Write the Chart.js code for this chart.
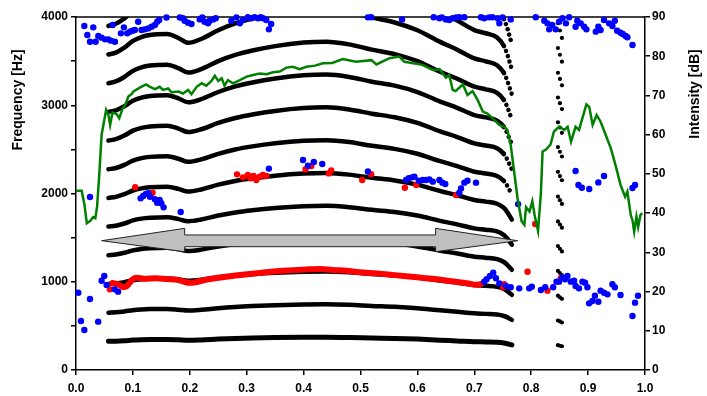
<!DOCTYPE html>
<html><head><meta charset="utf-8">
<script src="https://cdn.jsdelivr.net/npm/chart.js@4"></script>
<style>html,body{margin:0;padding:0;background:#fff;}</style>
</head><body>
<canvas id="c" width="707" height="396"></canvas>
<script>
// ---------- DATA ----------
// time grid (s, normalised) for the harmonic tracks
const harmT = [0.057,0.07,0.085,0.10,0.115,0.13,0.16,0.18,0.197,0.22,0.25,0.28,0.31,0.35,0.40,0.44,0.48,0.52,0.56,0.60,0.64,0.67,0.70,0.72,0.74,0.752,0.758,0.762,0.766];
const h1  = [325,327,332,339,343,345,346,342,337,341,350,357,362,367,371,372,369,363,358,350,338,330,321,318,314,306,298,291,284];
const h2  = [650,654,664,678,686,690,692,684,674,682,700,714,724,734,742,744,738,726,716,700,676,660,642,636,628,612,596,582,568];
const h3  = [975,981,996,1017,1029,1035,1038,1026,1011,1023,1050,1071,1086,1101,1113,1116,1107,1089,1074,1050,1014,990,963,954,942,918,894,873,852];
const h4  = [1300,1308,1328,1356,1372,1380,1384,1368,1348,1364,1400,1428,1448,1468,1484,1488,1476,1452,1432,1400,1352,1320,1284,1272,1256,1224,1192,1164,1136];
const h5  = [1625,1635,1660,1695,1715,1725,1730,1710,1685,1705,1750,1785,1810,1835,1855,1860,1845,1815,1790,1750,1690,1650,1605,1590,1570,1530,1490,1455,1420];
const h6  = [1950,1962,1992,2034,2058,2070,2076,2052,2022,2046,2100,2142,2172,2202,2226,2232,2214,2178,2148,2100,2028,1980,1926,1908,1884,1836,1788,1746,1704];
const h7  = [2275,2289,2324,2373,2401,2415,2422,2394,2359,2387,2450,2499,2534,2569,2597,2604,2583,2541,2506,2450,2366,2310,2247,2226,2198,2142,2086,2037,1988];
const h8  = [2600,2616,2656,2712,2744,2760,2768,2736,2696,2728,2800,2856,2896,2936,2968,2976,2952,2904,2864,2800,2704,2640,2568,2544,2512,2448,2384,2328,2272];
const h9  = [2925,2943,2988,3051,3087,3105,3114,3078,3033,3069,3150,3213,3258,3303,3339,3348,3321,3267,3222,3150,3042,2970,2889,2862,2826,2754,2682,2619,2556];
const h10 = [3250,3270,3320,3390,3430,3450,3460,3420,3370,3410,3500,3570,3620,3670,3710,3720,3690,3630,3580,3500,3380,3300,3210,3180,3140,3060,2980,2910,2840];
const h11 = [3575,3597,3652,3729,3773,3795,3806,3762,3707,3751,3850,3927,3982,4037,4081,4092,4059,3993,3938,3850,3718,3630,3531,3498,3454,3366,3278,3201,3124];
const h12 = [3900,3924,3984,4068,4116,4140,4152,4104,4044,4092,4200,4284,4344,4404,4452,4464,4428,4356,4296,4200,4056,3960,3852,3816,3768,3672,3576,3492,3408];
const h13 = [4225,4251,4316,4407,4459,4485,4498,4446,4381,4433,4550,4641,4706,4771,4823,4836,4797,4719,4654,4550,4394,4290,4173,4134,4082,3978,3874,3783,3692];

// short pitch glide near t = 0.85 (three frames)
const glideT = [0.847, 0.8505, 0.854];
const glideHzA = [281,561,842,1123,1404,1684,1965,2246,2526,2807,3088,3368,3649,3930];
const glideHzB = [275,550,824,1099,1374,1649,1924,2198,2473,2748,3023,3298,3572,3847];
const glideHzC = [269,538,806,1075,1344,1613,1882,2150,2419,2688,2957,3226,3494,3763];

// red track (F1)
const redT  = [0.065,0.072,0.077,0.083,0.089,0.094,0.098,0.106,0.12,0.14,0.16,0.18,0.19,0.20,0.21,0.23,0.25,0.28,0.305,0.33,0.364,0.405,0.43,0.451,0.475,0.498,0.53,0.56,0.60,0.63,0.66,0.69,0.703,0.712];
const redHz = [985,975,960,940,950,985,1020,1045,1035,1040,1030,1020,1000,988,995,1025,1046,1070,1088,1105,1125,1140,1145,1133,1125,1107,1095,1075,1050,1030,1005,980,965,975];

// isolated red points
const redDotT  = [0.0596,0.064,0.104,0.1345,0.283,0.2935,0.302,0.3065,0.312,0.317,
                  0.3228,0.3286,0.3345,0.4035,0.4135,0.4444,0.4485,0.503,0.5187,0.578,
                  0.598,0.668,0.751,0.7526,0.7936,0.807,0.8286,0.852];
const redDotHz = [914,982,2070,2009,2217,2183,2210,2172,2198,2153,
                  2190,2210,2198,2274,2312,2228,2262,2153,2219,2066,
                  2096,1983,937,971,1114,1654,899,1039];

// blue points (upper band)
const blueTopT = [0.0146,0.0199,0.0246,0.0304,0.0345,0.0392,0.045,0.0509,0.0567,0.0614,
                  0.0643,0.0684,0.0789,0.0842,0.09,0.0947,0.0994,0.1035,0.1093,0.1152,
                  0.121,0.1269,0.1328,0.1386,0.1427,0.1462,0.159,0.1825,0.188,0.191,
                  0.197,0.203,0.2175,0.222,0.226,0.232,0.235,0.241,0.2456,0.273,
                  0.282,0.288,0.2935,0.302,0.308,0.314,0.32,0.3246,0.3286,0.3345,
                  0.339,0.343,0.513,0.5187,0.573,0.6287,0.6386,0.643,0.650,0.656,
                  0.662,0.668,0.6737,0.6825,0.7117,0.7175,0.726,0.732,0.741,0.744,
                  0.7497,0.764,0.808,0.823,0.8286,0.8316,0.837,0.843,0.849,0.855,
                  0.861,0.8667,0.878,0.881,0.887,0.893,0.897,0.9135,0.918,0.922,
                  0.928,0.937,0.9427,0.947,0.951,0.957,0.961,0.966,0.969,0.978];
const blueTopHz = [3898,3796,3720,3883,3720,3785,3766,3747,3747,3732,
                   3909,3720,3815,3883,3815,3834,3845,3853,3947,3853,
                   3860,3871,3890,3909,3947,3966,3995,3995,3985,3958,
                   3936,3921,3973,3996,3947,3928,3958,3973,3985,3958,
                   3996,3928,3966,3998,3985,3998,3985,3998,3985,3966,
                   3860,3921,3996,3998,3973,3998,3985,3996,3973,3966,
                   3985,3996,3998,3998,3998,3985,3996,3998,3985,3928,
                   3996,3973,3998,3958,3928,3860,3909,3860,3947,3985,
                   3928,3998,3890,3958,3928,3890,3860,3834,3890,3853,
                   3966,3928,3898,3958,3845,3822,3807,3785,3770,3683];
// blue points (middle band)
const blueMidT = [0.0246,0.1135,0.118,0.1228,0.127,0.13,0.1386,0.1427,0.147,0.150,
                  0.154,0.184,0.339,0.399,0.4076,0.418,0.4328,0.513,0.580,0.5848,
                  0.5906,0.5947,0.6023,0.6093,0.615,0.621,0.627,0.6386,0.644,0.649,
                  0.6737,0.6766,0.6825,0.688,0.703,0.777,0.878,0.883,0.889,0.902,
                  0.918,0.928,0.978,0.9825];
const blueMidHz = [1960,1945,1972,1994,2002,1964,1934,1896,1926,1889,
                   1843,1790,2282,2380,2315,2357,2334,2250,2153,2172,
                   2183,2190,2145,2153,2153,2160,2134,2153,2123,2108,
                   2009,2058,2123,2145,2123,1880,2255,2096,2066,2051,
                   2126,2198,2062,2096];
// blue points (lower band)
const blueLowT = [0.004,0.0088,0.0146,0.0246,0.039,0.045,0.0497,0.0538,0.068,0.074,
                  0.7175,0.7216,0.7275,0.7333,0.738,0.744,0.7556,0.764,0.779,0.7965,
                  0.801,0.817,0.8246,0.8386,0.8444,0.849,0.855,0.8596,0.8637,0.8696,
                  0.8754,0.878,0.884,0.89,0.8947,0.8988,0.9018,0.9076,0.912,0.918,
                  0.922,0.928,0.934,0.9427,0.947,0.957,0.978,0.9825,0.9877];
const blueLowHz = [876,555,453,805,548,1012,1065,963,914,888,
                   1001,1028,1065,1103,1039,982,952,937,925,925,
                   944,907,937,937,1001,1001,1050,1028,1065,1001,
                   1012,952,925,1001,990,937,755,782,842,774,
                   899,876,857,971,937,850,612,763,842];

// intensity (dB, right axis)
const intT = [0.000,0.010,0.015,0.019,0.025,0.030,0.034,0.037,0.041,0.045,
              0.050,0.053,0.057,0.060,0.064,0.071,0.076,0.082,0.086,0.092,
              0.098,0.101,0.112,0.123,0.130,0.139,0.147,0.153,0.162,0.168,
              0.180,0.188,0.197,0.203,0.212,0.221,0.229,0.238,0.244,0.250,
              0.256,0.261,0.267,0.276,0.288,0.300,0.311,0.323,0.335,0.346,
              0.358,0.370,0.381,0.393,0.405,0.420,0.434,0.450,0.469,0.492,
              0.519,0.528,0.551,0.568,0.577,0.609,0.627,0.639,0.650,0.656,
              0.662,0.667,0.680,0.688,0.697,0.706,0.715,0.723,0.732,0.744,
              0.753,0.758,0.764,0.770,0.776,0.783,0.788,0.791,0.797,0.802,
              0.806,0.812,0.817,0.820,0.826,0.834,0.840,0.849,0.855,0.858,
              0.864,0.870,0.878,0.884,0.890,0.897,0.902,0.908,0.915,0.922,
              0.931,0.940,0.949,0.957,0.965,0.969,0.975,0.978,0.981,0.985,
              0.988,0.992,0.995];
const intDb = [45.7,45.7,42,37.4,38,39,38.7,41.6,50,60,
               64,66.3,65,62.5,65.6,65.3,64.2,66.7,67.3,69.7,
               70.4,71,72,72.8,72.2,71.6,72.2,71.4,71.8,70.8,
               71,70.5,71.4,70.3,72.2,73.1,72.5,73.7,75,73.7,
               74.4,72.5,73.9,73.1,73.9,74.8,75.2,75.6,75.4,75.9,
               76.1,77.1,77.3,76.7,77.3,77.6,78.2,78.3,79.3,78.6,
               79,77.9,79.5,79.9,78.6,77.8,76.5,76.7,74.5,75.2,
               71.4,71.1,72.8,70.1,71.1,68.8,65.9,65.4,64.2,62.5,
               62,61.2,57.4,50.6,43.8,38,37,41.5,40.4,43,
               39.5,35.5,45,55.7,56.2,57.5,60.8,62,61.5,61.2,
               62,58.2,62,61.2,64.2,67.7,67.1,62.5,65,63.3,
               59.9,56.5,51.8,47.2,44.2,45.5,39.5,38.2,35.3,39.1,
               36.5,39.5,40];

// double-headed annotation arrow (time, Hz)
const arrowT  = [0.045,0.191,0.191,0.632,0.632,0.776,0.632,0.632,0.191,0.191];
const arrowHz = [1465,1605,1530,1530,1605,1465,1340,1397,1397,1340];

// axis labels
const yTitle = 'Frequency [Hz]';
const y2Title = 'Intensity [dB]';

// ---------- BUILD ----------
const FONT = '"Liberation Sans", Arial, Helvetica, sans-serif';
const pairs = (xs, ys) => xs.map((x, i) => ({x: x, y: ys[i]}));

const datasets = [];
[h1,h2,h3,h4,h5,h6,h7,h8,h9,h10,h11,h12,h13].forEach((h, k) => {
  const n = k + 1;
  const ds = {
    label: 'H' + n, data: pairs(harmT, h), showLine: true, pointRadius: 0,
    borderColor: '#000', borderWidth: n === 1 ? 5 : 4.5,
    cubicInterpolationMode: 'monotone', borderCapStyle: 'round', borderJoinStyle: 'round',
    clip: 0, order: 10
  };
  if (n >= 7) ds.segment = { borderDash: c => c.p0DataIndex >= 25 ? [0.01, 5.5] : undefined };
  datasets.push(ds);
});
[glideHzA, glideHzB, glideHzC].forEach((g, j) => {
  datasets.push({ label: 'glide' + j, data: g.map(f => ({x: glideT[j], y: f})),
    pointRadius: 2.1, pointBackgroundColor: '#000', pointBorderWidth: 0, clip: 0, order: 10 });
});
datasets.push({ label: 'F1', data: pairs(redT, redHz), showLine: true, pointRadius: 0,
  borderColor: '#ff0000', borderWidth: 6, cubicInterpolationMode: 'monotone',
  borderCapStyle: 'round', order: 4 });
datasets.push({ label: 'redDots', data: pairs(redDotT, redDotHz), pointRadius: 3.2,
  pointBackgroundColor: '#ff0000', pointBorderWidth: 0, clip: false, order: 3 });
[[blueTopT, blueTopHz], [blueMidT, blueMidHz], [blueLowT, blueLowHz]].forEach((b, j) => {
  datasets.push({ label: 'blue' + j, data: pairs(b[0], b[1]), pointRadius: 3.2,
    pointBackgroundColor: '#0000ff', pointBorderWidth: 0, clip: false, order: 2 });
});
datasets.push({ label: 'Intensity', yAxisID: 'y2', data: pairs(intT, intDb), showLine: true,
  pointRadius: 0, borderColor: '#008000', borderWidth: 2.5, order: 1 });

const arrowPlugin = {
  id: 'arrowAnno',
  beforeDatasetDraw(chart, args) {
    if (chart.data.datasets[args.index].label !== 'F1') return;
    const xs = chart.scales.x, ys = chart.scales.y, c = chart.ctx;
    c.save();
    c.beginPath();
    arrowT.forEach((t, i) => {
      const px = xs.getPixelForValue(t), py = ys.getPixelForValue(arrowHz[i]);
      if (i === 0) c.moveTo(px, py); else c.lineTo(px, py);
    });
    c.closePath();
    c.fillStyle = '#c0c0c0'; c.fill();
    c.lineWidth = 1; c.strokeStyle = '#222'; c.stroke();
    c.restore();
  }
};
const framePlugin = {
  id: 'frame',
  beforeDatasetsDraw(chart) {
    const a = chart.chartArea, c = chart.ctx;
    c.save(); c.strokeStyle = '#000'; c.lineWidth = 1.5;
    c.beginPath(); c.moveTo(a.left, a.top); c.lineTo(a.right, a.top); c.stroke();
    c.restore();
  },
  afterDraw(chart) {
    const a = chart.chartArea, c = chart.ctx;
    c.save(); c.fillStyle = '#000'; c.font = 'bold 14px ' + FONT;
    c.textAlign = 'center'; c.textBaseline = 'middle';
    c.translate(a.left - 58, a.top + 83); c.rotate(-Math.PI / 2); c.fillText(yTitle, 0, 0);
    c.restore();
    c.save(); c.fillStyle = '#000'; c.font = 'bold 14px ' + FONT;
    c.textAlign = 'center'; c.textBaseline = 'middle';
    c.translate(a.right + 50.5, a.top + 77); c.rotate(-Math.PI / 2); c.fillText(y2Title, 0, 0);
    c.restore();
  }
};

const tickFont = { family: FONT, size: 12, weight: 'bold' };
const gridOpts = { drawOnChartArea: false, drawTicks: true, tickLength: 5, color: '#000', lineWidth: 1.5 };
const borderOpts = { display: true, color: '#000', width: 1.5 };

new Chart(document.getElementById('c'), {
  type: 'scatter',
  data: { datasets },
  plugins: [arrowPlugin, framePlugin],
  options: {
    responsive: false, animation: false, devicePixelRatio: 1,
    layout: { padding: { top: 17, left: 0, right: 0, bottom: 0 } },
    plugins: { legend: { display: false }, tooltip: { enabled: false } },
    scales: {
      x: { type: 'linear', position: 'bottom', min: 0, max: 1,
        ticks: { stepSize: 0.1, autoSkip: false, maxRotation: 0, padding: 6, color: '#000', font: tickFont,
          callback: v => Number(v).toFixed(1) },
        grid: gridOpts, border: borderOpts,
        afterFit: s => { s.height = 26; } },
      y: { type: 'linear', position: 'left', min: 0, max: 4000,
        ticks: { stepSize: 500, autoSkip: false, padding: 3, color: '#000', font: tickFont,
          callback: v => (v % 1000 === 0 ? String(v) : '') },
        grid: gridOpts, border: borderOpts,
        afterFit: s => { s.width = 76; } },
      y2: { type: 'linear', position: 'right', min: 0, max: 90,
        ticks: { stepSize: 10, autoSkip: false, padding: 2, color: '#000', font: tickFont },
        grid: gridOpts, border: borderOpts,
        afterFit: s => { s.width = 62; } }
    }
  }
});
</script>
</body></html>
